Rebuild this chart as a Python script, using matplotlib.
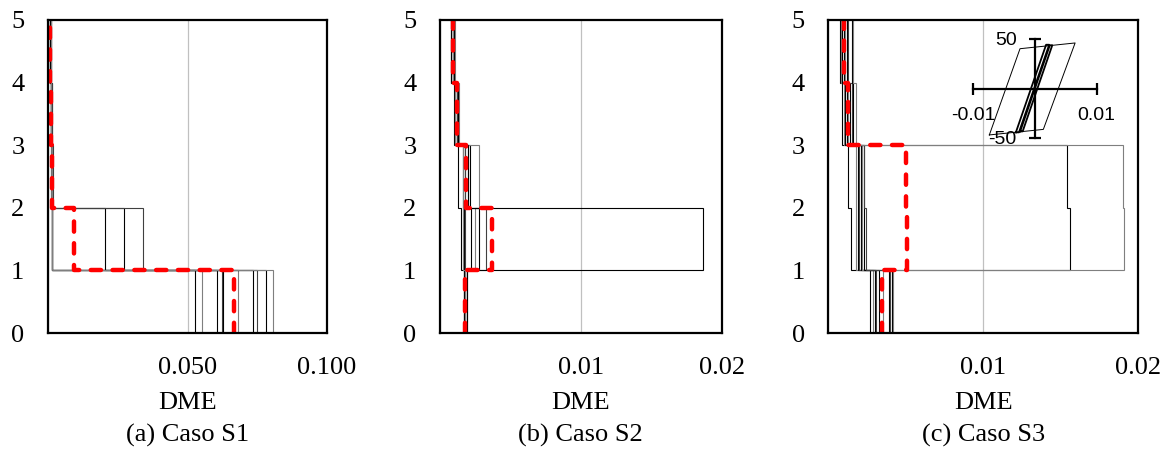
import numpy as np
import matplotlib
matplotlib.use("Agg")
import matplotlib.pyplot as plt

plt.rcParams['font.family'] = ['Liberation Serif', 'DejaVu Serif']

# ---------------- data ----------------
story_levels = [0, 1, 2, 3, 4, 5]
yticks = [0, 1, 2, 3, 4, 5]

# Panel (a) Caso S1 : DME per story (story 1..5) for each record
a_s1 = [0.0527, 0.0553, 0.0605, 0.0625, 0.0628, 0.0680, 0.0736, 0.0748, 0.0781, 0.0808]
a_s2 = [0.0015, 0.0015, 0.0204, 0.0015, 0.0274, 0.0015, 0.0015, 0.0339, 0.0015, 0.0015]
a_s3 = [0.0012, 0.0014, 0.0015, 0.0013, 0.0016, 0.0012, 0.0014, 0.0017, 0.0013, 0.0015]
a_s4 = [0.0009, 0.0011, 0.0012, 0.0010, 0.0013, 0.0010, 0.0011, 0.0014, 0.0010, 0.0012]
a_s5 = [0.0006, 0.0008, 0.0009, 0.0007, 0.0010, 0.0008, 0.0008, 0.0011, 0.0007, 0.0009]
a_mean = [0.0668, 0.0093, 0.0014, 0.0011, 0.0008]
a_xticks = [0.0, 0.05, 0.10]
a_xlabels = ['', '0.050', '0.100']

# Panel (b) Caso S2
b_s1 = [0.0017, 0.0018, 0.0018, 0.0019, 0.0017, 0.0018, 0.0019, 0.0018, 0.0017, 0.0018]
b_s2 = [0.0015, 0.0016, 0.0017, 0.0018, 0.0022, 0.0025, 0.0028, 0.0033, 0.0187, 0.0016]
b_s3 = [0.0013, 0.0016, 0.0018, 0.0020, 0.0021, 0.0028, 0.0016, 0.0018, 0.0020, 0.0016]
b_s4 = [0.0010, 0.0011, 0.0012, 0.0013, 0.0012, 0.00135, 0.0011, 0.0012, 0.0013, 0.0011]
b_s5 = [0.00076, 0.0008, 0.0009, 0.0010, 0.0009, 0.0011, 0.0008, 0.0009, 0.0010, 0.0009]
b_mean = [0.0018, 0.0037, 0.00185, 0.0012, 0.0009]
b_xticks = [0.0, 0.01, 0.02]
b_xlabels = ['', '0.01', '0.02']

# Panel (c) Caso S3
c_s1 = [0.0027, 0.00286, 0.0030, 0.0031, 0.0033, 0.0035, 0.0039, 0.0040, 0.0041, 0.0042]
c_s2 = [0.00146, 0.0018, 0.0019, 0.0020, 0.0021, 0.0022, 0.0023, 0.0024, 0.0156, 0.0191]
c_s3 = [0.0013, 0.0018, 0.0019, 0.0020, 0.0021, 0.0022, 0.0023, 0.0023, 0.0154, 0.0190]
c_s4 = [0.0009, 0.0010, 0.0011, 0.0012, 0.0012, 0.0013, 0.0014, 0.0015, 0.0016, 0.0018]
c_s5 = [0.00075, 0.0008, 0.0009, 0.0010, 0.0010, 0.0011, 0.0012, 0.0013, 0.0015, 0.0016]
c_mean = [0.00344, 0.00506, 0.0050, 0.00125, 0.0010]
c_xticks = [0.0, 0.01, 0.02]
c_xlabels = ['', '0.01', '0.02']

# Inset hysteresis (drift, force)
hyst_outer_x = [-0.0074, -0.00243, 0.0065, 0.00135, -0.0074]
hyst_outer_y = [-46.6, 40.5, 46.3, -41.0, -46.6]
hyst_in1_x = [-0.0031, 0.0018, 0.0023, -0.0026, -0.0031]
hyst_in1_y = [-44.0, 44.5, 44.5, -44.0, -44.0]
hyst_in2_x = [-0.0024, 0.0024, 0.0028, -0.0020, -0.0024]
hyst_in2_y = [-43.0, 44.0, 44.0, -43.0, -43.0]
inset_xticks = [-0.01, 0.01]
inset_xlabels = ['-0.01', '0.01']
inset_yticks = [50, -50]
inset_ylabels = ['50', '-50']

captions = ['(a) Caso S1', '(b) Caso S2', '(c) Caso S3']

# ---------------- figure ----------------
W, H = 1167, 451
fig = plt.figure(figsize=(W / 100, H / 100), dpi=100)

def fr(x0, x1, ytop, ybot):
    return [x0 / W, 1 - ybot / H, (x1 - x0) / W, (ybot - ytop) / H]

axes_px = [(48, 327, 20, 333), (440, 721.7, 20, 333), (828.3, 1138.3, 20, 333)]
panels = [
    ([a_s1, a_s2, a_s3, a_s4, a_s5], a_mean, 0.10, a_xticks, a_xlabels),
    ([b_s1, b_s2, b_s3, b_s4, b_s5], b_mean, 0.02, b_xticks, b_xlabels),
    ([c_s1, c_s2, c_s3, c_s4, c_s5], c_mean, 0.02, c_xticks, c_xlabels),
]
line_colors = ['black', '#7f7f7f', 'black', '#404040', 'black',
               '#7f7f7f', 'black', '#404040', 'black', '#7f7f7f']
ystep = np.repeat(story_levels, 2)[1:-1]

for i, (pos, (stories, mean, xmax, xt, xl)) in enumerate(zip(axes_px, panels)):
    ax = fig.add_axes(fr(*pos))
    recs = np.array(stories).T  # records x stories
    for j, rec in enumerate(recs):
        ax.plot(np.repeat(rec, 2), ystep, color=line_colors[j % len(line_colors)],
                lw=0.8, zorder=2, solid_joinstyle='miter')
    ml, = ax.plot(np.repeat(mean, 2), ystep, color='red', lw=3.2, zorder=4,
                  dash_capstyle='round')
    ml.set_dashes((2.3, 2.6))
    ax.set_xlim(0, xmax)
    ax.set_ylim(0, 5)
    ax.set_xticks(xt)
    ax.set_xticklabels(xl)
    ax.set_yticks(yticks)
    ax.tick_params(length=0, labelsize=19, pad=17)
    ax.xaxis.grid(True, color='#c0c0c0', lw=0.9, zorder=0)
    ax.set_axisbelow(True)
    for sp in ax.spines.values():
        sp.set_linewidth(1.6)
        sp.set_color('black')
        sp.set_zorder(5)
    ax.set_xlabel('DME', fontsize=19)
    ax.xaxis.set_label_coords(0.5, -0.224)
    ax.xaxis.label.set_va('center')
    ax.text(0.5, -0.327, captions[i], transform=ax.transAxes, ha='center',
            va='center', fontsize=19)

# ---------------- inset ----------------
ins = fig.add_axes(fr(973.3, 1096.7, 39.3, 138.3))
ins.patch.set_alpha(0)
ins.set_axis_off()
ins.set_xlim(-0.01, 0.01)
ins.set_ylim(-50, 50)
ins.plot(hyst_outer_x, hyst_outer_y, color='black', lw=0.7, clip_on=False)
ins.plot(hyst_in1_x, hyst_in1_y, color='black', lw=1.3, clip_on=False)
ins.plot(hyst_in2_x, hyst_in2_y, color='black', lw=1.3, clip_on=False)
ins.plot(inset_xticks, [0, 0], color='black', lw=1.6, marker='|', ms=9,
         mew=1.6, clip_on=False)
ins.plot([0, 0], inset_yticks, color='black', lw=1.6, marker='_', ms=9,
         mew=1.6, clip_on=False)
for xv, lab in zip(inset_xticks, inset_xlabels):
    ins.text(xv, -26.5, lab, ha='center', va='center', fontsize=14,
             family=['Liberation Sans', 'DejaVu Sans'])
for yv, lab in zip(inset_yticks, inset_ylabels):
    ins.text(-0.0030, yv - 1.5 if yv > 0 else yv - 1.5, lab, ha='right', va='center',
             fontsize=14, family=['Liberation Sans', 'DejaVu Sans'])

fig.savefig('out.png', dpi=100)
